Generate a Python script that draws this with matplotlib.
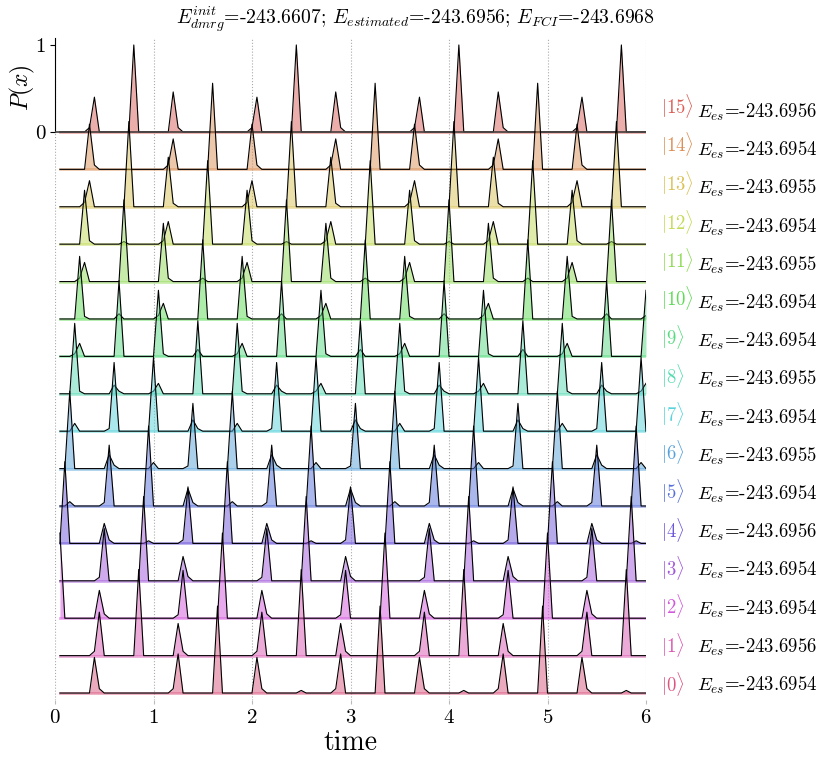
import numpy as np
import matplotlib
matplotlib.use('Agg')
import matplotlib.pyplot as plt
import seaborn as sns

plt.rcParams['font.family'] = 'serif'
plt.rcParams['font.serif'] = ['cmr10']
plt.rcParams['mathtext.fontset'] = 'cm'
plt.rcParams['axes.formatter.use_mathtext'] = True
plt.rcParams['axes.unicode_minus'] = False

# states |0> .. |15> and their energies
states = list(range(16))
energies = [-243.6954, -243.6956, -243.6954, -243.6954, -243.6956, -243.6954,
            -243.6955, -243.6954, -243.6955, -243.6954, -243.6954, -243.6955,
            -243.6954, -243.6955, -243.6954, -243.6956]

# time sampled every 0.05, 120 steps; P(x) given as (step, value), zero elsewhere
dt = 0.05
nsteps = 120
row15 = [(7, .05), (8, .40), (16, 1.0), (24, .46), (25, .05), (40, .05), (41, .40), (49, 1.0), (57, .46), (58, .05),
         (73, .05), (74, .40), (82, 1.0), (90, .46), (91, .05), (106, .05), (107, .40), (115, 1.0)]
row14 = [(7, .52), (8, .05), (23, .05), (24, .35), (32, .99), (40, .52), (41, .05), (56, .05), (57, .35), (65, .99),
         (73, .52), (74, .05), (89, .05), (90, .35), (98, .99), (106, .52), (107, .05)]
row13 = [(6, .05), (7, .30), (15, .98), (23, .57), (24, .04), (39, .05), (40, .30), (48, .98), (56, .57), (57, .04),
         (72, .05), (73, .30), (81, .98), (89, .57), (90, .04), (105, .05), (106, .30), (114, .98)]
row12 = [(6, .62), (7, .04), (14, .03), (22, .04), (23, .26), (31, .96), (39, .62), (40, .04), (47, .03), (55, .04),
         (56, .26), (64, .96), (72, .62), (73, .04), (80, .03), (88, .04), (89, .26), (97, .96), (105, .62),
         (106, .04), (113, .03)]
row11 = [(5, .04), (6, .22), (14, .94), (22, .67), (23, .04), (30, .04), (38, .04), (39, .22), (47, .94), (55, .67),
         (56, .04), (63, .04), (71, .04), (72, .22), (80, .94), (88, .67), (89, .04), (96, .04), (104, .04),
         (105, .22), (113, .94)]
row10 = [(5, .72), (6, .03), (13, .06), (21, .04), (22, .18), (30, .91), (38, .72), (39, .03), (46, .06), (54, .04),
         (55, .18), (63, .91), (71, .72), (72, .03), (79, .06), (87, .04), (88, .18), (96, .91), (104, .72),
         (105, .03), (112, .06), (120, .04)]
row9 = [(4, .03), (5, .15), (13, .87), (21, .76), (22, .03), (29, .08), (37, .03), (38, .15), (46, .87), (54, .76),
        (55, .03), (62, .08), (70, .03), (71, .15), (79, .87), (87, .76), (88, .03), (95, .08), (103, .03),
        (104, .15), (112, .87), (120, .76)]
row8 = [(4, .81), (5, .03), (12, .10), (13, .03), (20, .03), (21, .12), (29, .84), (37, .81), (38, .03), (45, .10),
        (46, .03), (53, .03), (54, .12), (62, .84), (70, .81), (71, .03), (78, .10), (79, .03), (86, .03),
        (87, .12), (95, .84), (103, .81), (104, .03), (111, .10), (112, .03), (119, .03), (120, .12)]
row7 = [(4, .09), (11, .03), (12, .79), (20, .85), (28, .13), (29, .03), (37, .09), (44, .03), (45, .79), (53, .85),
        (61, .13), (62, .03), (70, .09), (77, .03), (78, .79), (86, .85), (94, .13), (95, .03), (103, .09),
        (110, .03), (111, .79), (119, .85)]
row6 = [(3, .89), (11, .16), (12, .04), (20, .07), (27, .03), (28, .75), (36, .89), (44, .16), (45, .04), (53, .07),
        (60, .03), (61, .75), (69, .89), (77, .16), (78, .04), (86, .07), (93, .03), (94, .75), (102, .89),
        (110, .16), (111, .04), (119, .07)]
row5 = [(3, .05), (10, .04), (11, .70), (19, .92), (27, .20), (28, .04), (36, .05), (43, .04), (44, .70), (52, .92),
        (60, .20), (61, .04), (69, .05), (76, .04), (77, .70), (85, .92), (93, .20), (94, .04), (102, .05),
        (109, .04), (110, .70), (118, .92)]
row4 = [(2, .94), (10, .23), (11, .04), (19, .03), (26, .04), (27, .65), (35, .94), (43, .23), (44, .04), (52, .03),
        (59, .04), (60, .65), (68, .94), (76, .23), (77, .04), (85, .03), (92, .04), (93, .65), (101, .94),
        (109, .23), (110, .04), (118, .03)]
row3 = [(9, .04), (10, .60), (18, .97), (26, .28), (27, .05), (42, .04), (43, .60), (51, .97), (59, .28), (60, .05),
        (75, .04), (76, .60), (84, .97), (92, .28), (93, .05), (108, .04), (109, .60), (117, .97)]
row2 = [(1, .98), (9, .32), (10, .05), (25, .04), (26, .55), (34, .98), (42, .32), (43, .05), (58, .04), (59, .55),
        (67, .98), (75, .32), (76, .05), (91, .04), (92, .55), (100, .98), (108, .32), (109, .05)]
row1 = [(8, .05), (9, .50), (17, .99), (25, .37), (26, .05), (41, .05), (42, .50), (50, .99), (58, .37), (59, .05),
        (74, .05), (75, .50), (83, .99), (91, .37), (92, .05), (107, .05), (108, .50), (116, .99)]
row0 = [(8, .41), (9, .05), (24, .05), (25, .45), (33, 1.0), (41, .41), (42, .05), (50, .03), (57, .05), (58, .45),
        (66, 1.0), (74, .41), (75, .05), (83, .03), (90, .05), (91, .45), (99, 1.0), (107, .41), (108, .05),
        (116, .03)]
rows = [row0, row1, row2, row3, row4, row5, row6, row7, row8, row9, row10, row11, row12, row13, row14, row15]

time = np.arange(1, nsteps + 1) * dt
p = {}
for k in states:
    arr = np.zeros(nsteps)
    for n, v in rows[k]:
        arr[n - 1] = v
    p[k] = arr

fig = plt.figure(figsize=(8.3, 7.67), dpi=100)
ax = fig.add_axes([55/830, 1-700/767, (646-55)/830, (700-38)/767])
gap = 0.43
colors = sns.color_palette('hls', 16)
for k in states:
    y0 = k*gap
    col = colors[15-k]
    z = 2*(16-k)
    ax.fill_between(time, y0, y0+p[k], color=col, alpha=0.5, lw=0, zorder=z)
    ax.plot([time[0], time[-1]], [y0, y0], color=col, lw=2, alpha=0.5, zorder=z)
    ax.plot(time, y0+p[k], color='black', lw=0.8, zorder=z+1)
# baseline of the top panel
ax.plot([0, 6], [15*gap, 15*gap], color='#444444', lw=1.2, zorder=3)

ax.set_xlim(0, 6)
ax.set_ylim(-0.08, 15*gap+1.08)
ax.set_xticks(range(7))
ax.grid(axis='x', ls=':', color='#aaaaaa', lw=0.8, zorder=0)
ax.set_yticks([15*gap, 15*gap+1])
ax.set_yticklabels(['0', '1'])
for s in ['top', 'right', 'bottom']:
    ax.spines[s].set_visible(False)
ax.spines['left'].set_bounds(15*gap, 15*gap+1.08)
ax.tick_params(axis='x', colors='#bbbbbb', labelcolor='black', labelsize=15, length=3)
ax.tick_params(axis='y', labelsize=15)
ax.set_xlabel('time', fontsize=20, labelpad=2)

fig.text(22/830, 1-88/767, '$P(x)$', rotation=90, ha='center', va='center', fontsize=17)
fig.suptitle(r'$E^{init}_{dmrg}$=-243.6607; $E_{estimated}$=-243.6956; $E_{FCI}$=-243.6968',
             x=0.5, y=1-19/767, va='center', fontsize=14.2)

for k in states:
    fig.text(661/830, 1-(106+38.5*(15-k))/767, rf'$|{k}\rangle$', color=colors[15-k],
             fontsize=13.5, va='center')
    fig.text(697/830, 1-(112.5+38.2*(15-k))/767, rf'$E_{{es}}$={energies[k]:.4f}',
             fontsize=13.5, va='center')

fig.savefig('out.png', dpi=100)
